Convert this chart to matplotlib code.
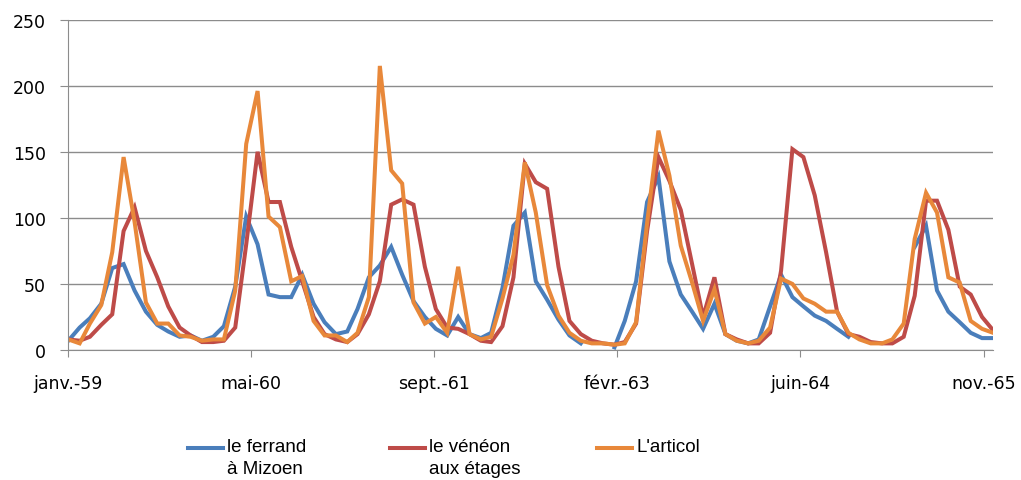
import numpy as np
import pandas as pd
import matplotlib
matplotlib.use("Agg")
import matplotlib.pyplot as plt
from matplotlib.lines import Line2D

nan = np.nan

# débits mensuels, janvier 1959 -> décembre 1965
months = pd.date_range("1959-01-01", periods=84, freq="MS")

ferrand = [
    7, 17, 24, 35, 62, 65, 45, 29, 19, 14, 10, 11,
    7, 10, 18, 48, 101, 80, 42, 40, 40, 57, 35, 21,
    12, 14, 31, 55, 64, 78, 57, 37, 25, 16, 11, 25,
    12, 9, 13, 47, 94, 104, 52, 38, 23, 11, 5, nan,
    nan, 2, 22, 52, 112, 131, 67, 42, 29, 16, 35, 12,
    7, 5, 8, 33, 57, 40, 33, 26, 22, 16, 10, nan,
    nan, nan, nan, nan, 78, 94, 45, 29, 21, 13, 9, 9,
]
veneon = [
    8, 7, 10, 19, 27, 90, 108, 75, 55, 33, 17, 11,
    6, 6, 7, 17, 80, 150, 112, 112, 78, 52, 25, 12,
    8, 6, 12, 27, 52, 110, 114, 110, 63, 31, 17, 16,
    12, 7, 6, 18, 55, 141, 127, 122, 63, 22, 12, 7,
    5, 4, 6, 20, 90, 146, 128, 106, 65, 25, 55, 12,
    8, 5, 5, 13, 60, 152, 146, 117, 74, 29, 12, 10,
    6, 5, 5, 10, 41, 113, 113, 91, 48, 42, 25, 15,
]
articol = [
    8, 5, 20, 34, 74, 146, 97, 36, 20, 20, 11, 10,
    7, 8, 8, 45, 156, 196, 101, 93, 52, 56, 22, 11,
    11, 6, 13, 40, 215, 136, 126, 36, 20, 25, 13, 63,
    12, 8, 10, 39, 72, 142, 104, 49, 26, 13, 7, 5,
    5, 4, 5, 21, 96, 166, 132, 79, 51, 22, 46, 12,
    7, 5, 7, 17, 54, 50, 39, 35, 29, 29, 13, 8,
    5, 5, 8, 20, 84, 119, 104, 55, 51, 22, 16, 13,
]

labels = ["le ferrand\nà Mizoen", "le vénéon\naux étages", "L'articol"]
colors = ["#4A7EBB", "#BE4B48", "#E8883A"]

# graduations de l'axe des dates : tous les 500 jours
tick_dates = [months[0] + pd.Timedelta(days=500 * k) for k in range(6)]
tick_labels = ["janv.-59", "mai-60", "sept.-61", "févr.-63", "juin-64", "nov.-65"]

W, H = 1021, 481
fig = plt.figure(figsize=(W / 100, H / 100), dpi=100)
ax = fig.add_axes([0.0669, 0.2703, 0.9057, 0.6867])

for series, lab, col in zip([ferrand, veneon, articol], labels, colors):
    ax.plot(months, series, color=col, lw=2.9, label=lab, solid_joinstyle="miter")

ax.set_xlim(months[0], months[-1])
ax.set_ylim(0, 250)
ax.set_yticks(range(0, 251, 50))
ax.set_xticks(tick_dates)
ax.set_xticklabels(tick_labels)

ax.grid(axis="y", color="#8C8C8C", lw=1)
ax.set_axisbelow(True)
for side in ["top", "right"]:
    ax.spines[side].set_visible(False)
ax.spines["left"].set_color("#8C8C8C")
ax.spines["bottom"].set_color("#8C8C8C")
ax.tick_params(axis="y", length=6, color="#8C8C8C", pad=10, labelsize=12.5)
ax.tick_params(axis="x", length=5, color="#8C8C8C", pad=12, labelsize=12.5)

# légende sous le graphique, trait aligné sur la première ligne du libellé
handles, texts = ax.get_legend_handles_labels()
legend_x = [188, 390, 597]
for h, txt, x0 in zip(handles, texts, legend_x):
    y = 1 - 449 / H
    fig.add_artist(Line2D([x0 / W, (x0 + 35) / W], [y, y], color=h.get_color(),
                          lw=2.9, transform=fig.transFigure))
    fig.text((x0 + 39) / W, 1 - 439 / H, txt, ha="left", va="top",
             fontsize=13.5, linespacing=1.35, family="Liberation Sans",
             transform=fig.transFigure)

fig.savefig("out.png", dpi=100)
